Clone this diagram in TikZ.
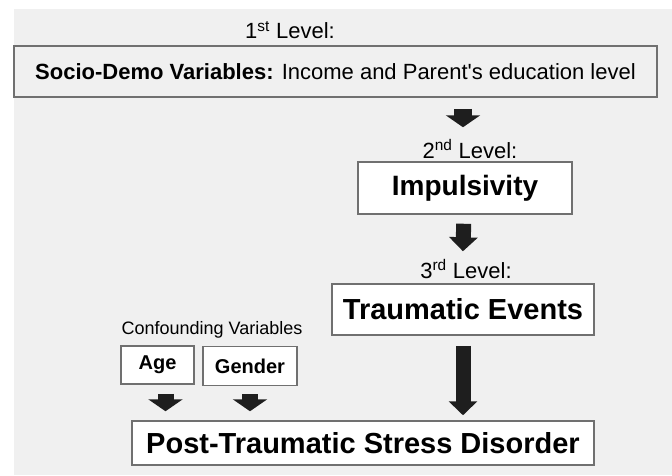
\documentclass[tikz,border=0pt]{standalone}
\usepackage{fontspec}
\setmainfont{Liberation Sans}
\usetikzlibrary{arrows.meta,calc}

\definecolor{bggray}{HTML}{F0F0F0}
\definecolor{edgegray}{HTML}{707070}
\definecolor{arrowblack}{HTML}{1E1E1E}

\tikzset{
	box/.style = {draw = edgegray, line width = 1.5pt, fill = white, inner sep = 0pt},
	lvl/.style = {font = \fontsize{22}{26}\selectfont, inner sep = 0pt},
	blockarr/.style = {arrowblack, line width = 16pt, -{Triangle[width = 34pt, length = 12pt]}}
}

\begin{document}
\begin{tikzpicture}[x = 1pt, y = -1pt]
		% canvas
		\useasboundingbox (0, 0) rectangle (672, 475);
		\fill[bggray] (14, 9) rectangle (672, 475);
		% levels
		\node[lvl] (lvl1) at (290, 30) {1\textsuperscript{st} Level:};
		\node[box, fill = bggray, minimum width = 643, minimum height = 51,
			font = \fontsize{22}{26}\selectfont] (soc) at (335.5, 71.5)
			{\textbf{Socio-Demo Variables:} Income and Parent\textquotesingle s education level};
		\node[lvl] (lvl2) at (470, 149) {2\textsuperscript{nd} Level:};
		\node[box, minimum width = 214, minimum height = 52,
			font = \fontsize{28}{32}\bfseries] (imp) at (465, 188) {Impulsivity};
		\node[lvl] (lvl3) at (466, 269) {3\textsuperscript{rd} Level:};
		\node[box, minimum width = 262, minimum height = 51,
			font = \fontsize{29}{33}\bfseries] (trauma) at (463, 309.5) {Traumatic Events};
		% confounders
		\node[font = \fontsize{18}{22}\selectfont, inner sep = 0pt] (conf) at (212, 330) {Confounding Variables};
		\node[box, minimum width = 73, minimum height = 38,
			font = \fontsize{20}{24}\bfseries] (age) at (157.5, 365) {Age};
		\node[box, minimum width = 94, minimum height = 39,
			font = \fontsize{20}{24}\bfseries] (gender) at (250, 366) {Gender};
		% outcome
		\node[box, minimum width = 462, minimum height = 44,
			font = \fontsize{29}{33}\bfseries] (ptsd) at (363, 443) {Post-Traumatic Stress Disorder};
		% the arrows
		\draw[blockarr, line width = 18pt, shorten <= 11pt, shorten >= 34pt] ($(imp.north |- soc.south) + (-2, 0)$) -- ($(imp.north) + (-2, 0)$);
		\draw[blockarr, line width = 15pt, -{Triangle[width = 28pt, length = 14pt]}, shorten <= 9pt, shorten >= 32pt] ($(imp.south) + (-1, 0)$) -- ($(trauma.north) + (-1, 0)$);
		\draw[blockarr, line width = 15pt, -{Triangle[width = 28pt, length = 14pt]}, shorten <= 10pt, shorten >= 5pt] (trauma.south) -- (trauma.south |- ptsd.north);
		\draw[blockarr, shorten <= 9pt, shorten >= 9pt] ($(age.south) + (8, 0)$) -- ($(age.south |- ptsd.north) + (8, 0)$);
		\draw[blockarr, shorten <= 8pt, shorten >= 9pt] (gender.south) -- (gender.south |- ptsd.north);
	\end{tikzpicture}
\end{document}
